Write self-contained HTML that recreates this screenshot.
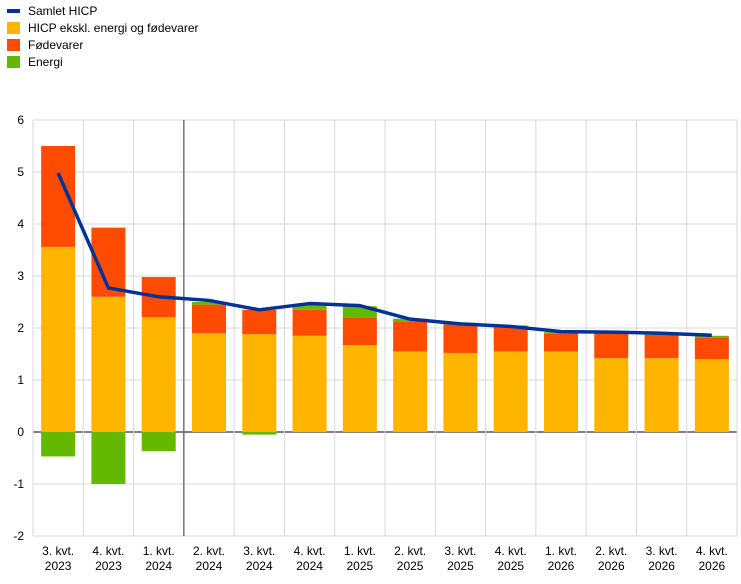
<!DOCTYPE html>
<html><head><meta charset="utf-8"><style>
body{margin:0;background:#fff;font-family:"Liberation Sans",sans-serif}
svg text{font-family:"Liberation Sans",sans-serif;font-size:12px;fill:#000}
</style></head><body>
<svg id="c" width="741" height="579"></svg>
<script>
const categories=[["3. kvt.","2023"],["4. kvt.","2023"],["1. kvt.","2024"],["2. kvt.","2024"],["3. kvt.","2024"],["4. kvt.","2024"],["1. kvt.","2025"],["2. kvt.","2025"],["3. kvt.","2025"],["4. kvt.","2025"],["1. kvt.","2026"],["2. kvt.","2026"],["3. kvt.","2026"],["4. kvt.","2026"]];
const core=[3.56,2.6,2.21,1.9,1.88,1.85,1.67,1.55,1.52,1.55,1.55,1.42,1.42,1.4];
const food=[1.94,1.33,0.77,0.55,0.47,0.5,0.53,0.58,0.55,0.45,0.35,0.48,0.45,0.42];
const energy=[-0.47,-1.0,-0.37,0.05,-0.05,0.1,0.22,0.05,0.03,0.05,0.02,0.02,0.01,0.03];
const total=[4.98,2.77,2.6,2.53,2.35,2.47,2.43,2.17,2.08,2.03,1.93,1.92,1.9,1.86];
const yTicks=[-2,-1,0,1,2,3,4,5,6];
const legendLabels=["Samlet HICP","HICP ekskl. energi og fødevarer","Fødevarer","Energi"];
const NS="http://www.w3.org/2000/svg",svg=document.getElementById('c');
const X0=33,X1=737,step=(X1-X0)/categories.length,bw=34;
const y=v=>432-v*52, xc=i=>X0+step*(i+0.5);
function el(t,a,p){const e=document.createElementNS(NS,t);for(const k in a)e.setAttribute(k,a[k]);(p||svg).appendChild(e);return e;}
yTicks.forEach(t=>{const g=el('line',{x1:X0,x2:X1,y1:y(t),y2:y(t),stroke:t===0?'#000':'#d9d9d9','stroke-width':1});

const l=el('text',{x:24,y:y(t)+4,'text-anchor':'end'});l.textContent=t;
});
for(let i=0;i<=categories.length;i++){const g=el('line',{x1:X0+step*i,x2:X0+step*i,y1:y(6),y2:y(-2),stroke:'#d9d9d9'});
}
const cols={core:'#ffb400',food:'#ff4b00',energy:'#65b800'};
categories.forEach((c,i)=>{
 let pos=0,neg=0;
 [['core',core[i]],['food',food[i]],['energy',energy[i]]].forEach(([k,v])=>{
  let a,b;if(v>=0){a=pos;b=pos+v;pos=b;}else{a=neg;b=neg+v;neg=b;}
  const r=el('rect',{x:xc(i)-bw/2,width:bw,y:y(Math.max(a,b)),height:Math.abs(y(a)-y(b)),fill:cols[k]});
  
 });
 const t=el('text',{x:xc(i),y:555,'text-anchor':'middle'});t.textContent=c[0];
 
 const t2=el('text',{x:xc(i),y:570,'text-anchor':'middle'});t2.textContent=c[1];
 
});
const d=el('line',{x1:X0+step*3,x2:X0+step*3,y1:y(6),y2:y(-2),stroke:'#555','stroke-width':1.2});

const pl=el('polyline',{points:total.map((v,i)=>xc(i)+','+y(v)).join(' '),fill:'none',stroke:'#003299','stroke-width':3.5,'stroke-linejoin':'round'});

const lc=['#003299','#ffb400','#ff4b00','#65b800'];
legendLabels.forEach((s,i)=>{const yy=11+i*17;
 const m=i===0?el('rect',{x:7,y:yy-2,width:13,height:4,fill:lc[i]}):el('rect',{x:7,y:yy-6,width:13,height:12,fill:lc[i]});
 
 const t=el('text',{x:28,y:yy+4});t.textContent=s;
 });
</script></body></html>
